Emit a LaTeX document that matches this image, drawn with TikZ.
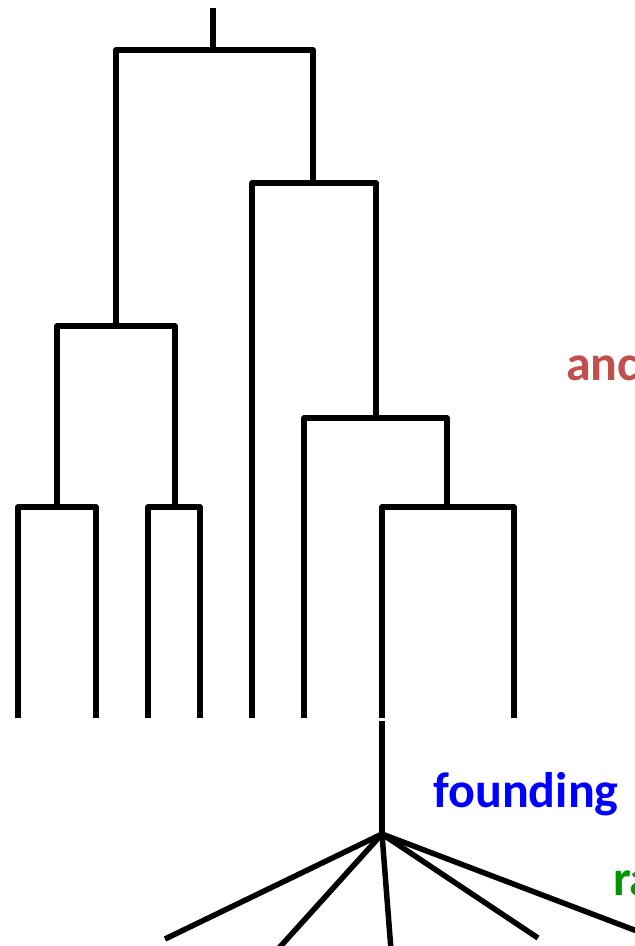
\documentclass[tikz,border=0pt]{standalone}
\usepackage{fontspec}
\setsansfont{Carlito}
\usepackage{tikz}

\definecolor{ancred}{RGB}{192,80,77}
\definecolor{radgreen}{RGB}{0,150,0}

\begin{document}
\begin{tikzpicture}[
    x=1pt, y=-1pt,
    branch/.style={line width=5.5pt, line join=round},
    lbl/.style={anchor=base west, inner sep=0pt, font=\sffamily\bfseries\fontsize{50}{60}\selectfont}
    ]

    \useasboundingbox (0,0) rectangle (635,946);
    \clip (0,0) rectangle (635,946);

    % junctions
    \coordinate (top) at (213,8);
    \coordinate (j0) at (213,50);
    \coordinate (j1) at (116,326);
    \coordinate (j2) at (313,183);
    \coordinate (j3) at (57,507);
    \coordinate (j4) at (175,507);
    \coordinate (j5) at (376,418);
    \coordinate (j6) at (447,507);

    % tips
    \coordinate (t1) at (18,718);
    \coordinate (t2) at (96,718);
    \coordinate (t3) at (148,718);
    \coordinate (t4) at (200,718);
    \coordinate (t5) at (252,718);
    \coordinate (t6) at (304,718);
    \coordinate (t7) at (382,718);
    \coordinate (t8) at (514,718);

    % founder and radiation
    \coordinate (f0) at (382,721);
    \coordinate (f1) at (382,834);
    \coordinate (r1) at (165,939);
    \coordinate (r2) at (279,948);
    \coordinate (r3) at (391,950);
    \coordinate (r4) at (538,938);
    \coordinate (r5) at (700,955);

    \draw[branch] (top) -- (j0);
    \draw[branch] (j1) |- (j0) -| (j2);
    \draw[branch] (j3) |- (j1) -| (j4);
    \draw[branch] (t1) |- (j3) -| (t2);
    \draw[branch] (t3) |- (j4) -| (t4);
    \draw[branch] (t5) |- (j2) -| (j5);
    \draw[branch] (t6) |- (j5) -| (j6);
    \draw[branch] (t7) |- (j6) -| (t8);

    \draw[branch] (f0) -- (f1);
    \foreach \r in {r1,r2,r3,r4,r5}
        \draw[branch] (f1) -- (\r);

    \node[lbl, text=ancred] (anc) at (566,380) {anc};
    \node[lbl, text=blue] (found) at (433,807) {founding};
    \node[lbl, text=radgreen] (rad) at (613,895) {ra};

\end{tikzpicture}
\end{document}
